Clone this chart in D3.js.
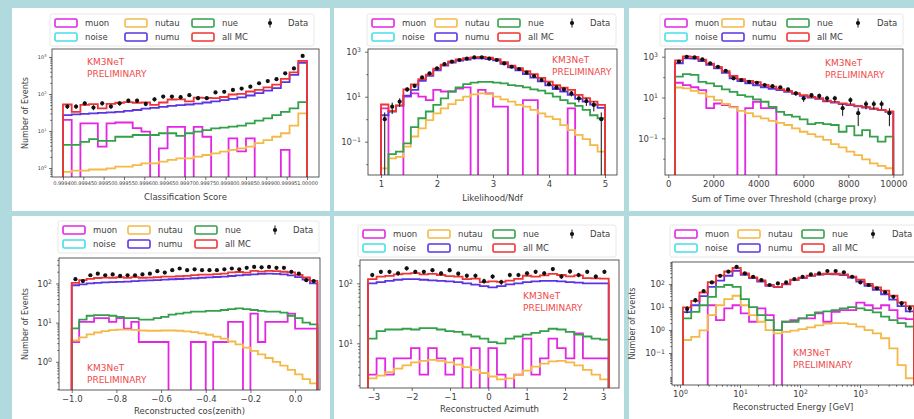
<!DOCTYPE html>
<html>
<head>
<meta charset="utf-8">
<script src="https://cdn.jsdelivr.net/npm/d3@7"></script>
<style>
  body { margin: 0; background: #b0dadd; }
  svg { display: block; font-family: "DejaVu Sans", sans-serif; }
</style>
</head>
<body>
<svg id="chart" width="914" height="419"></svg>
<script>
// ---- panel 1: classification score (28 bins) ----
const p1Range = [0.9994, 1.0];
const p1Muon = [20, 0, 16, 16, 3.8, 16, 17, 17, 12, 9.6, 0, 3.4, 13, 13, 0, 13, 7, 0, 0, 6.3, 2.8, 6.3, 0, 0, 0, 3.1, 0, 0];
const p1Nutau = [0.79, 0.85, 0.85, 0.91, 0.91, 0.98, 1.09, 1.09, 1.2, 1.34, 1.34, 1.48, 1.65, 1.83, 1.83, 2.03, 2.25, 2.5, 2.77, 3.1, 3.4, 3.8, 4.7, 5.7, 7, 8.7, 14, 30];
const p1Nue = [4.2, 4.2, 5.1, 6.0, 5.4, 5.4, 7.0, 7.0, 7.8, 7.8, 7.8, 8.7, 8.7, 7.4, 8.7, 9.6, 10.6, 11.8, 12.4, 13.1, 14, 16.1, 19, 22, 27, 33, 41, 60];
const p1Numu = [27, 28, 29, 30, 31, 32, 33, 35, 37, 40, 42, 45, 48, 50, 52, 55, 59, 63, 68, 74, 81, 91, 105, 123, 145, 210, 330, 700];
const p1AllMC = [52, 33, 51, 53, 41, 54, 58, 60, 58, 59, 51, 59, 71, 72, 63, 80, 79, 77, 83, 97, 101, 117, 129, 151, 179, 255, 385, 790];
const p1Data = [46, 46, 56, 43, 56, 46, 56, 66, 66, 54, 72, 85, 85, 82, 93, 77, 77, 110, 115, 129, 140, 158, 195, 224, 251, 363, 490, 1070];
const p1XTicks = [0.9994, 0.99945, 0.9995, 0.99955, 0.9996, 0.99965, 0.9997, 0.99975, 0.9998, 0.99985, 0.9999, 0.99995, 1.0];
const p1YTicks = [0, 1, 2, 3];

// ---- panel 2: likelihood / ndf (30 bins) ----
const p2Range = [1, 5];
const p2Muon = [3, 0, 0, 10, 14, 10, 7, 20, 17, 17, 23, 26, 0, 20, 14, 3.6, 3.6, 0, 0, 7, 7, 0, 0, 0, 0, 3, 0, 0, 0, 0];
const p2Nutau = [0.0065, 0.018, 0.021, 0.06, 0.17, 0.39, 0.91, 1.8, 3, 4.7, 7.1, 10, 12.7, 14, 13, 10, 7.6, 6, 4.3, 3.6, 2.6, 1.8, 1.3, 1, 0.55, 0.33, 0.2, 0.13, 0.07, 0.036];
const p2Nue = [0, 0.028, 0.036, 0.085, 0.44, 1.1, 2.2, 4.3, 8.5, 17, 26, 36, 42, 46, 46, 42, 39, 33, 30, 26, 21, 18.5, 14, 10, 7.1, 5, 3.9, 2.6, 1.5, 1.1];
const p2Numu = [1.5, 2.2, 4, 11, 20, 50, 85, 150, 240, 330, 400, 450, 500, 500, 470, 410, 290, 200, 150, 100, 70, 48, 32, 22, 17, 12, 8, 6, 4.5, 3.2];
const p2AllMC = [4.5, 2.3, 4.1, 21, 35, 61, 95, 176, 268, 369, 456, 522, 555, 580, 543, 466, 340, 239, 184, 137, 101, 68, 47, 33, 25, 20, 12, 8.7, 6.1, 4.3];
const p2Data = [1, 3.6, 6, 21, 30, 72, 109, 182, 283, 360, 427, 490, 562, 562, 490, 427, 302, 214, 170, 117, 83, 55, 36, 26, 21, 14, 8.5, 6.4, 4.3, 1];
const p2XTicks = [1, 2, 3, 4, 5];
const p2YTicks = [-1, 1, 3];

// ---- panel 3: sum of ToT (28 bins) ----
const p3Range = [300, 10000];
const p3Muon = [53, 41, 32, 23, 3.0, 5.1, 4.3, 3.5, 0, 3.0, 6.2, 3.0, 3.0, 0, 0, 0, 0, 0, 0, 0, 0, 0, 0, 0, 0, 0, 0, 0];
const p3Nutau = [31, 28, 21, 16, 11, 7.5, 4.8, 3.3, 2.2, 1.7, 1.2, 0.95, 0.72, 0.57, 0.45, 0.31, 0.21, 0.16, 0.12, 0.083, 0.052, 0.036, 0.022, 0.015, 0.0093, 0.0059, 0.0044, 0.0034];
const p3Nue = [105, 141, 130, 59, 49, 36, 25, 19, 13, 11, 8.1, 6.2, 3.5, 2.0, 1.4, 1.15, 0.85, 0.5, 0.57, 0.5, 0.45, 0.21, 0.4, 0.14, 0.25, 0.12, 0.068, 0.12];
const p3Numu = [480, 830, 800, 620, 400, 270, 160, 88, 64, 50, 40, 32, 27, 23, 19, 15, 12, 10, 8.5, 6.5, 5.6, 4.8, 4.2, 3.7, 3.2, 2.8, 2.4, 2.0];
const p3AllMC = [669, 1040, 983, 718, 463, 319, 194, 114, 79, 66, 56, 42, 34, 26, 21, 16.5, 13, 10.7, 9.2, 7.1, 6.1, 5.1, 4.6, 3.9, 3.5, 2.9, 2.5, 2.1];
const p3Data = [570, 1000, 930, 740, 470, 320, 205, 87, 72, 59, 53, 41, 36, 32, 25, 16, 9.1, 13, 12, 9.1, 9.1, 3, 7.5, 1.7, 4.8, 4.8, 4.8, 1.7];
const p3XTicks = [0, 2000, 4000, 6000, 8000, 10000];
const p3YTicks = [-1, 1, 3];

// ---- panel 4: cos(zenith) (33 bins) ----
const p4Range = [-1, 0.1];
const p4Muon = [3.2, 10.5, 10.5, 13, 13, 10.5, 13, 7, 10.5, 3.2, 3.2, 3.2, 3.2, 0, 0, 0, 3.2, 3.2, 0, 3.2, 3.2, 10.5, 10.5, 0, 17, 3.2, 10.5, 10.5, 10.5, 17, 7, 7, 7];
const p4Nutau = [3.5, 4.2, 5, 5.6, 6.1, 6.4, 6.6, 6.6, 6.5, 6.3, 6.2, 6.2, 6.3, 6.3, 6.2, 6, 5.7, 5.3, 4.9, 4.4, 3.9, 3.3, 2.8, 2.3, 1.9, 1.55, 1.25, 1.0, 0.8, 0.62, 0.48, 0.36, 0.28];
const p4Nue = [7.1, 12, 15, 15.5, 15.5, 15, 14, 13, 13, 12, 12, 13, 14, 16, 17, 18, 19, 19, 20, 20, 21, 22, 23, 22, 21, 20, 19, 19, 18, 15, 13, 10, 9];
const p4Numu = [90, 95, 100, 104, 106, 108, 110, 112, 115, 118, 120, 122, 125, 128, 130, 133, 136, 140, 143, 146, 150, 155, 160, 165, 170, 175, 178, 175, 170, 160, 145, 125, 100];
const p4AllMC = [104, 122, 131, 138, 141, 140, 144, 139, 145, 140, 141, 144, 149, 150, 153, 157, 164, 168, 168, 174, 178, 191, 196, 189, 210, 200, 209, 206, 199, 193, 166, 142, 116];
const p4Data = [129, 115, 162, 178, 162, 170, 156, 162, 162, 170, 178, 206, 190, 219, 241, 219, 230, 219, 219, 219, 230, 241, 230, 251, 265, 258, 265, 251, 251, 198, 178, 121, 115];
const p4XTicks = [-1.0, -0.8, -0.6, -0.4, -0.2, 0.0];
const p4YTicks = [0, 1, 2];

// ---- panel 5: azimuth (28 bins) ----
const p5Range = [-Math.PI, Math.PI];
const p5Muon = [3, 5.6, 3, 5.6, 5.6, 8.3, 3, 8.3, 5.6, 3, 5.6, 0, 8.3, 0, 8.3, 3, 0, 3, 12, 3, 5.6, 12, 8.3, 5.6, 14.7, 5.6, 5.6, 5.6];
const p5Nutau = [2.6, 2.9, 3.3, 3.8, 4.3, 4.8, 5.1, 5.3, 5.1, 4.8, 4.4, 4.0, 3.6, 3.2, 2.8, 2.5, 2.6, 3.0, 3.5, 4.1, 4.6, 5.0, 5.1, 4.8, 4.3, 3.6, 3.0, 2.5];
const p5Nue = [12, 16, 17, 17, 17.5, 17, 18, 18, 17, 16, 15.5, 14, 13, 12, 10.5, 10, 12, 13, 14, 15, 16, 17.5, 17, 15.5, 14, 13, 12, 11.5];
const p5Numu = [100, 105, 110, 115, 118, 118, 115, 112, 110, 108, 105, 100, 95, 90, 86, 90, 96, 100, 105, 108, 110, 110, 108, 105, 103, 100, 100, 100];
const p5AllMC = [118, 130, 133, 141, 145, 148, 141, 144, 138, 132, 130, 118, 120, 105, 108, 106, 111, 119, 134, 130, 136, 144, 138, 131, 136, 122, 121, 120];
const p5Data = [138, 156, 156, 147, 178, 156, 156, 166, 147, 166, 145, 134, 134, 109, 130, 105, 138, 138, 147, 156, 147, 173, 130, 158, 138, 156, 130, 156];
const p5XTicks = [-3, -2, -1, 0, 1, 2, 3];
const p5YTicks = [1, 2];

// ---- panel 6: energy, log bins (28 bins, exponents of GeV) ----
const p6LogRange = [0.05, 3.9];
const p6Muon = [0, 0, 0, 12, 2.7, 8.7, 12, 5.3, 2.3, 8.7, 4.5, 0, 2.3, 2.7, 3.2, 3.2, 5.3, 2.3, 6.2, 7.4, 7.4, 15.5, 12, 8.7, 12, 7.4, 3.2, 3];
const p6Nutau = [0.37, 0.51, 0.97, 4.5, 12, 22, 31, 12, 4.5, 2.3, 1.0, 0.72, 0.84, 0.95, 1.1, 1.3, 1.6, 1.9, 2.0, 2.0, 1.8, 1.4, 1.0, 0.72, 0.44, 0.16, 0.03, 0.008];
const p6Nue = [3.2, 6.2, 12, 28, 76, 91, 76, 22, 10, 4.5, 2.7, 1, 2.3, 2.3, 3.2, 4.5, 5.9, 6.5, 7.4, 8.7, 10, 8.7, 7.4, 5.9, 3.8, 2.7, 2, 1.4];
const p6Numu = [6, 12, 30, 75, 140, 230, 380, 250, 180, 128, 83, 74, 98, 148, 182, 225, 255, 270, 265, 245, 190, 128, 83, 56, 36, 21, 11, 6.5];
const p6AllMC = [9.6, 18.7, 43, 120, 231, 352, 499, 289, 197, 144, 91, 76, 103, 154, 190, 234, 268, 281, 281, 263, 209, 154, 103, 71, 52, 31, 16, 10.9];
const p6Data = [8.2, 20, 50, 118, 229, 345, 565, 290, 208, 149, 91, 107, 118, 165, 208, 263, 290, 370, 370, 325, 208, 118, 91, 65, 44, 28, 14.5, 8.7];
const p6XTicks = [0, 1, 2, 3];
const p6YTicks = [-1, 0, 1, 2];

const seriesKeys = ["muon", "noise", "nutau", "numu", "nue", "allMC"];
const seriesNames = ["muon", "noise", "nutau", "numu", "nue", "all MC"];
const seriesColors = ["#e326e3", "#45dfe8", "#f4b947", "#5b35e3", "#34a04a", "#f03535"];
const xLabels = ["Classification Score", "Likelihood/Ndf", "Sum of Time over Threshold (charge proxy)",
  "Reconstructed cos(zenith)", "Reconstructed Azimuth", "Reconstructed Energy [GeV]"];
const yLabel = "Number of Events";
const prelimText = ["KM3NeT", "PRELIMINARY"];

const color = {};
seriesKeys.forEach((k, i) => (color[k] = seriesColors[i]));

const linEdges = (range, n) => d3.range(n + 1).map((i) => range[0] + ((range[1] - range[0]) * i) / n);
const logEdges = (range, n) => linEdges(range, n).map((e) => 10 ** e);
const fmtExp = d3.format("d");
const textColor = "#404040";

const panels = [
  {
    frame: [12, 8, 318, 203], axes: { l: 52, r: 319, t: 49, b: 177 },
    x: d3.scaleLinear().domain([0.999373, 1.0000295]), yExp: [-0.243, 3.216], yStride: 1,
    edges: linEdges(p1Range, p1Data.length),
    hist: { muon: p1Muon, nutau: p1Nutau, numu: p1Numu, nue: p1Nue, allMC: p1AllMC }, data: p1Data,
    xTicks: p1XTicks, xFormat: d3.format(".5f"), yTicks: p1YTicks, tickFont: 5, tickPad: 1.5,
    xLabelY: 197, yLabelX: 25, legendX: [55, 125, 192, 270, 288], legendY: 23, prelim: [87, 62],
  },
  {
    frame: [334, 8, 290, 203], axes: { l: 368, r: 617, t: 49, b: 175 },
    x: d3.scaleLinear().domain([0.768, 5.214]), yExp: [-2.48, 3.12], yStride: 2,
    edges: linEdges(p2Range, p2Data.length),
    hist: { muon: p2Muon, nutau: p2Nutau, numu: p2Numu, nue: p2Nue, allMC: p2AllMC }, data: p2Data,
    xTicks: p2XTicks, xFormat: d3.format("d"), yTicks: p2YTicks, tickFont: 8.5, tickPad: 3,
    xLabelY: 198, legendX: [372, 435, 498, 572, 590], legendY: 23, prelim: [552, 60],
  },
  {
    frame: [629, 8, 285, 203], axes: { l: 665, r: 903, t: 49, b: 175 },
    x: d3.scaleLinear().domain([-147, 10431]), yExp: [-2.8, 3.38], yStride: 2,
    edges: linEdges(p3Range, p3Data.length),
    hist: { muon: p3Muon, nutau: p3Nutau, numu: p3Numu, nue: p3Nue, allMC: p3AllMC }, data: p3Data,
    xTicks: p3XTicks, xFormat: d3.format("d"), yTicks: p3YTicks, tickFont: 8.5, tickPad: 3,
    xLabelY: 199, legendX: [665, 722, 787, 858, 877], legendY: 23, prelim: [825, 63],
  },
  {
    frame: [12, 216, 318, 203], axes: { l: 59, r: 320, t: 258, b: 390 },
    x: d3.scaleLinear().domain([-1.057, 0.1115]), yExp: [-0.72, 2.65], yStride: 1,
    edges: linEdges(p4Range, p4Data.length),
    hist: { muon: p4Muon, nutau: p4Nutau, numu: p4Numu, nue: p4Nue, allMC: p4AllMC }, data: p4Data,
    xTicks: p4XTicks, xFormat: d3.format(".1f"), yTicks: p4YTicks, tickFont: 8.5, tickPad: 3,
    xLabelY: 411, yLabelX: 25, legendX: [63, 128, 195, 275, 293], legendY: 230, prelim: [87, 368],
  },
  {
    frame: [334, 216, 290, 203], axes: { l: 360, r: 619, t: 260, b: 388 },
    x: d3.scaleLinear().domain([-3.35, 3.41]), yExp: [0.255, 2.39], yStride: 1,
    edges: linEdges(p5Range, p5Data.length),
    hist: { muon: p5Muon, nutau: p5Nutau, numu: p5Numu, nue: p5Nue, allMC: p5AllMC }, data: p5Data,
    xTicks: p5XTicks, xFormat: d3.format("d"), yTicks: p5YTicks, tickFont: 8.5, tickPad: 3,
    xLabelY: 409, legendX: [363, 428, 493, 572, 590], legendY: 234, prelim: [523, 296],
  },
  {
    frame: [629, 216, 285, 203], axes: { l: 672, r: 916, t: 262, b: 385 },
    x: d3.scaleLog().domain([10 ** -0.133, 10 ** 3.933]), logX: true, yExp: [-2.39, 2.96], yStride: 1,
    edges: logEdges(p6LogRange, p6Data.length),
    hist: { muon: p6Muon, nutau: p6Nutau, numu: p6Numu, nue: p6Nue, allMC: p6AllMC }, data: p6Data,
    xTicks: p6XTicks.map((e) => 10 ** e), yTicks: p6YTicks, tickFont: 8.5, tickPad: 3,
    xLabelY: 407, yLabelX: 632, legendX: [675, 738, 802, 873, 892], legendY: 234, prelim: [793, 353],
  },
];

const svg = d3.select("#chart");

function supText(sel, exp) {
  sel.text(null);
  sel.append("tspan").text("10");
  sel.append("tspan").attr("dy", "-0.45em").attr("font-size", "72%").text(fmtExp(exp));
}

function logMinors(lo, hi, majors, stride) {
  const out = [];
  for (let k = Math.floor(lo); k <= Math.ceil(hi); k++) {
    if (stride > 1) {
      if (!majors.includes(k)) out.push(10 ** k);
    } else {
      for (let m = 2; m <= 9; m++) out.push(m * 10 ** k);
    }
  }
  return out.filter((v) => Math.log10(v) >= lo && Math.log10(v) <= hi);
}

function styleAxis(g, p) {
  g.select(".domain").remove();
  g.attr("font-family", "DejaVu Sans, sans-serif").attr("font-size", p.tickFont);
  g.selectAll(".tick line").attr("stroke", "#333").attr("stroke-width", 0.7);
  g.selectAll(".tick text").attr("fill", textColor);
}

function drawPanel(p, idx) {
  const { l, r, t, b } = p.axes;
  p.x.range([l, r]);
  const y = d3.scaleLog().domain(p.yExp.map((e) => 10 ** e)).range([b, t]);
  const base = b + 3;
  const yv = (v) => (v > 0 ? Math.min(y(v), base) : base);

  svg.append("rect")
    .attr("x", p.frame[0]).attr("y", p.frame[1])
    .attr("width", p.frame[2]).attr("height", p.frame[3])
    .attr("fill", "#fff");

  // legend
  const [c1, c2, c3, cd, ct] = p.legendX;
  const ly = p.legendY;
  const rowGap = 14;
  svg.append("rect")
    .attr("x", c1 - 5).attr("y", ly - 9)
    .attr("width", ct + 26 - (c1 - 5)).attr("height", rowGap + 18)
    .attr("rx", 2).attr("fill", "#fff").attr("stroke", "#e2e2e2").attr("stroke-width", 0.8);
  const legendItems = [
    { key: "muon", x: c1, row: 0 }, { key: "noise", x: c1, row: 1 },
    { key: "nutau", x: c2, row: 0 }, { key: "numu", x: c2, row: 1 },
    { key: "nue", x: c3, row: 0 }, { key: "allMC", x: c3, row: 1 },
  ];
  const lg = svg.append("g");
  legendItems.forEach((it) => {
    const yy = ly + it.row * rowGap;
    lg.append("rect")
      .attr("x", it.x).attr("y", yy - 4).attr("width", 22).attr("height", 8).attr("rx", 1.5)
      .attr("fill", "none").attr("stroke", color[it.key]).attr("stroke-width", 1.6);
    lg.append("text")
      .attr("x", it.x + 30).attr("y", yy).attr("dy", "0.34em")
      .attr("font-size", 8.5).attr("fill", textColor)
      .text(seriesNames[seriesKeys.indexOf(it.key)]);
  });
  lg.append("line").attr("x1", cd).attr("x2", cd).attr("y1", ly - 4.5).attr("y2", ly + 4.5)
    .attr("stroke", "#111").attr("stroke-width", 1);
  lg.append("circle").attr("cx", cd).attr("cy", ly).attr("r", 2.1).attr("fill", "#111");
  lg.append("text").attr("x", ct).attr("y", ly).attr("dy", "0.34em")
    .attr("font-size", 8.5).attr("fill", textColor).text("Data");

  // histograms
  const clipId = "clip" + idx;
  svg.append("clipPath").attr("id", clipId)
    .append("rect").attr("x", l).attr("y", t).attr("width", r - l).attr("height", b - t);
  const plot = svg.append("g").attr("clip-path", `url(#${clipId})`);
  const line = d3.line();
  ["muon", "noise", "nutau", "numu", "nue", "allMC"].forEach((key) => {
    const vals = p.hist[key];
    if (!vals) return;
    const pts = [[p.x(p.edges[0]), base]];
    vals.forEach((v, i) => {
      pts.push([p.x(p.edges[i]), yv(v)], [p.x(p.edges[i + 1]), yv(v)]);
    });
    pts.push([p.x(p.edges[vals.length]), base]);
    plot.append("path")
      .attr("d", line(pts))
      .attr("fill", "none")
      .attr("stroke", color[key])
      .attr("stroke-width", 1.8);
  });

  // data points with poisson bars
  const centre = (i) => (p.logX ? Math.sqrt(p.edges[i] * p.edges[i + 1]) : (p.edges[i] + p.edges[i + 1]) / 2);
  plot.selectAll(null).data(p.data).join("line")
    .attr("x1", (d, i) => p.x(centre(i)))
    .attr("x2", (d, i) => p.x(centre(i)))
    .attr("y1", (d) => yv(d + Math.sqrt(d)))
    .attr("y2", (d) => yv(d - Math.sqrt(d)))
    .attr("stroke", "#111").attr("stroke-width", 1);
  plot.selectAll(null).data(p.data).join("circle")
    .attr("cx", (d, i) => p.x(centre(i)))
    .attr("cy", (d) => yv(d))
    .attr("r", 2.1)
    .attr("fill", "#111");

  // frame
  svg.append("rect")
    .attr("x", l).attr("y", t).attr("width", r - l).attr("height", b - t)
    .attr("fill", "none").attr("stroke", "#333").attr("stroke-width", 0.8);

  // x axis
  const gx = svg.append("g").attr("transform", `translate(0,${b})`)
    .call(d3.axisBottom(p.x).tickValues(p.xTicks).tickSize(3).tickPadding(p.tickPad)
      .tickFormat(p.logX ? () => "" : p.xFormat));
  styleAxis(gx, p);
  if (p.logX) {
    gx.selectAll(".tick text").each(function (d) { supText(d3.select(this), Math.round(Math.log10(d))); });
    const xm = [];
    p.x.domain().forEach(() => {});
    for (let k = -1; k <= 4; k++) for (let m = 2; m <= 9; m++) xm.push(m * 10 ** k);
    const [d0, d1] = p.x.domain();
    const gxm = svg.append("g").attr("transform", `translate(0,${b})`)
      .call(d3.axisBottom(p.x).tickValues(xm.filter((v) => v > d0 && v < d1)).tickSize(1.8).tickFormat(""));
    styleAxis(gxm, p);
  }

  // y axis
  const gy = svg.append("g").attr("transform", `translate(${l},0)`)
    .call(d3.axisLeft(y).tickValues(p.yTicks.map((e) => 10 ** e)).tickSize(3).tickPadding(p.tickPad + 1).tickFormat(() => ""));
  styleAxis(gy, p);
  gy.selectAll(".tick text").each(function (d) { supText(d3.select(this), Math.round(Math.log10(d))); });
  const gym = svg.append("g").attr("transform", `translate(${l},0)`)
    .call(d3.axisLeft(y).tickValues(logMinors(p.yExp[0], p.yExp[1], p.yTicks, p.yStride)).tickSize(1.8).tickFormat(""));
  styleAxis(gym, p);

  // labels
  svg.append("text")
    .attr("x", (l + Math.min(r, 914)) / 2).attr("y", p.xLabelY).attr("dy", "0.34em")
    .attr("text-anchor", "middle").attr("font-size", 8.5).attr("fill", textColor)
    .text(xLabels[idx]);
  if (p.yLabelX !== undefined) {
    svg.append("text")
      .attr("transform", `translate(${p.yLabelX},${(t + b) / 2}) rotate(-90)`)
      .attr("dy", "0.34em").attr("text-anchor", "middle")
      .attr("font-size", 8).attr("fill", textColor)
      .text(yLabel);
  }
  prelimText.forEach((s, i) => {
    svg.append("text")
      .attr("x", p.prelim[0]).attr("y", p.prelim[1] + i * 12).attr("dy", "0.34em")
      .attr("font-size", 9).attr("fill", "#f04a4a")
      .text(s);
  });
}

panels.forEach(drawPanel);
</script>
</body>
</html>
